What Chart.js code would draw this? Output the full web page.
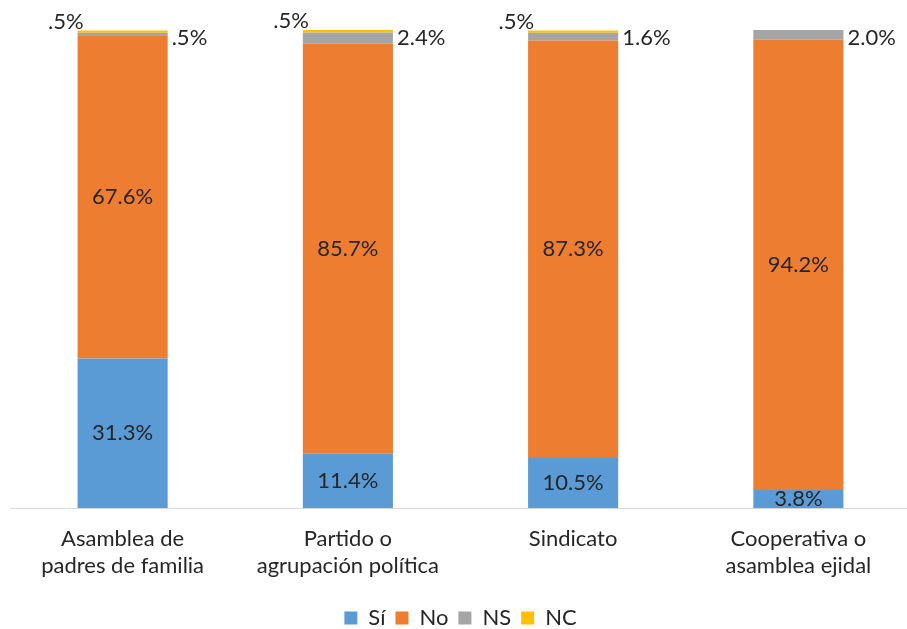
<!DOCTYPE html>
<html>
<head>
<meta charset="utf-8">
<script src="https://cdn.jsdelivr.net/npm/chart.js@4.4.0/dist/chart.umd.min.js"></script>
<style>
  html, body { margin: 0; padding: 0; background: #fff; overflow: hidden; }
  #wrap { width: 911px; height: 629px; position: relative; }
</style>
</head>
<body>
<div id="wrap"><canvas id="chart"></canvas></div>
<script>
// Data
const categories = [
    ['Asamblea de', 'padres de familia'],
    ['Partido o', 'agrupación política'],
    ['Sindicato'],
    ['Cooperativa o', 'asamblea ejidal']
];
const si = [31.3, 11.4, 10.5, 3.8];
const no = [67.6, 85.7, 87.3, 94.2];
const ns = [0.5, 2.4, 1.6, 2.0];
const nc = [0.5, 0.5, 0.5, 0];

const FONT = 'Lato, "Open Sans", sans-serif';
const TEXT = '#262626';

// Draw value labels: Sí/No centered, NS at right, NC at left above bar
const labelPlugin = {
    id: 'labels',
    afterDatasetsDraw(chart) {
        const ctx = chart.ctx;
        ctx.save();
        ctx.font = '22px ' + FONT;
        ctx.fillStyle = TEXT;
        ctx.textBaseline = 'middle';
        chart.data.datasets.forEach((ds, di) => {
            const meta = chart.getDatasetMeta(di);
            meta.data.forEach((bar, i) => {
                const v = ds.data[i];
                if (!v) return;
                const txt = (v < 1 ? v.toFixed(1).replace(/^0/, '') : v.toFixed(1)) + '%';
                const left = bar.x - bar.width / 2;
                const right = bar.x + bar.width / 2;
                const mid = (bar.y + bar.base) / 2;
                if (di < 2) {
                    ctx.textAlign = 'center';
                    ctx.fillText(txt, bar.x, mid);
                } else if (di === 2) {
                    ctx.textAlign = 'left';
                    ctx.fillText(txt, right + 4, Math.max(mid, 38));
                } else {
                    ctx.textAlign = 'right';
                    ctx.fillText(txt, left + 6, bar.y - 9);
                }
            });
        });
        ctx.restore();
    }
};

new Chart(document.getElementById('chart'), {
    type: 'bar',
    data: {
        labels: categories,
        datasets: [
            { label: 'Sí', data: si, backgroundColor: '#5B9BD5' },
            { label: 'No', data: no, backgroundColor: '#ED7D31' },
            { label: 'NS', data: ns, backgroundColor: '#A5A5A5' },
            { label: 'NC', data: nc, backgroundColor: '#FFC000' }
        ]
    },
    options: {
        responsive: true,
        maintainAspectRatio: false,
        animation: false,
        layout: { padding: { top: 30, left: 10, right: 0, bottom: -10 } },
        datasets: { bar: { categoryPercentage: 1, barPercentage: 0.4 } },
        scales: {
            x: {
                stacked: true,
                grid: { display: false, drawTicks: false },
                border: { color: '#D9D9D9', width: 1 },
                ticks: { color: TEXT, font: { family: FONT, size: 22, lineHeight: 1.2 }, padding: 18 }
            },
            y: {
                stacked: true,
                min: 0,
                max: 100,
                display: false
            }
        },
        plugins: {
            legend: {
                position: 'bottom',
                labels: {
                    color: TEXT,
                    font: { family: FONT, size: 22 },
                    boxWidth: 13,
                    boxHeight: 13,
                    padding: 10
                }
            },
            tooltip: { enabled: false }
        }
    },
    plugins: [labelPlugin]
});
</script>
</body>
</html>
